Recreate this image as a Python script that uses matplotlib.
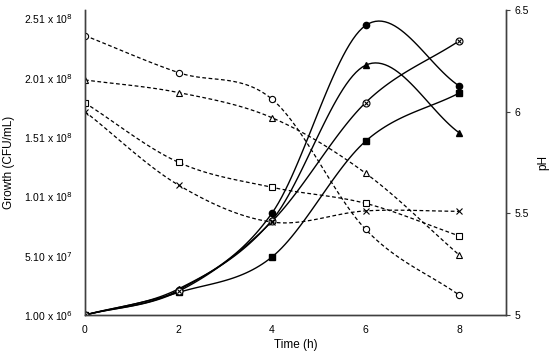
import matplotlib.pyplot as plt
import numpy as np

plt.rcParams["font.family"] = ["Liberation Sans", "DejaVu Sans"]

time_h = [0, 2, 4, 6, 8]

# growth (CFU/mL), solid lines, left axis
growth_circle = [1.0e6, 2.2e7, 8.7e7, 2.45e8, 1.94e8]
growth_triangle = [1.0e6, 2.3e7, 8.1e7, 2.115e8, 1.545e8]
growth_crossed = [1.0e6, 2.1e7, 8.0e7, 1.80e8, 2.32e8]
growth_square = [1.0e6, 2.0e7, 5.0e7, 1.475e8, 1.88e8]

# pH, dashed lines, right axis
ph_circle = [6.374, 6.192, 6.061, 5.421, 5.098]
ph_triangle = [6.156, 6.094, 5.970, 5.697, 5.295]
ph_square = [6.043, 5.751, 5.628, 5.549, 5.389]
ph_cross = [6.000, 5.639, 5.457, 5.512, 5.510]

growth_ticks = [1.0e6, 5.1e7, 1.01e8, 1.51e8, 2.01e8, 2.51e8]
growth_labels = [r"1.00 x 10$^{6}$", r"5.10 x 10$^{7}$", r"1.01 x 10$^{8}$",
                 r"1.51 x 10$^{8}$", r"2.01 x 10$^{8}$", r"2.51 x 10$^{8}$"]
ph_ticks = [5, 5.5, 6, 6.5]
ph_labels = ["5", "5.5", "6", "6.5"]


def smooth(x, y, n=30):
    # catmull-rom style smoothing, like spreadsheet "smoothed line"
    x = np.asarray(x, float)
    y = np.asarray(y, float)
    px = np.concatenate([[2 * x[0] - x[1]], x, [2 * x[-1] - x[-2]]])
    py = np.concatenate([[2 * y[0] - y[1]], y, [2 * y[-1] - y[-2]]])
    xs, ys = [], []
    t = np.linspace(0, 1, n)
    for i in range(1, len(px) - 2):
        p0, p1, p2, p3 = px[i - 1], px[i], px[i + 1], px[i + 2]
        q0, q1, q2, q3 = py[i - 1], py[i], py[i + 1], py[i + 2]
        b = [p1, p1 + (p2 - p0) / 6, p2 - (p3 - p1) / 6, p2]
        c = [q1, q1 + (q2 - q0) / 6, q2 - (q3 - q1) / 6, q2]
        w = [(1 - t) ** 3, 3 * (1 - t) ** 2 * t, 3 * (1 - t) * t ** 2, t ** 3]
        xs.extend(sum(wk * bk for wk, bk in zip(w, b)))
        ys.extend(sum(wk * ck for wk, ck in zip(w, c)))
    return np.array(xs), np.array(ys)


fig = plt.figure(figsize=(5.5, 3.53), dpi=100)
ax = fig.add_axes([0.1545, 0.1076, 0.7655, 0.8641])
ax2 = ax.twinx()

axis_col = "#404040"
ms = 4.5

# pH series (dashed, open markers)
for vals, mk in [(ph_circle, "o"), (ph_triangle, "^"), (ph_square, "s"), (ph_cross, "x")]:
    sx, sy = smooth(time_h, vals)
    ax2.plot(sx, sy, color="black", lw=0.9, ls=(0, (3, 2)))
    if mk == "x":
        ax2.plot(time_h, vals, ls="none", marker="x", ms=ms, mec="black", mew=0.8)
    else:
        ax2.plot(time_h, vals, ls="none", marker=mk, ms=ms, mfc="white", mec="black", mew=0.8)

# growth series (solid, filled markers)
for vals in [growth_circle, growth_triangle, growth_crossed, growth_square]:
    sx, sy = smooth(time_h, vals)
    ax.plot(sx, sy, color="black", lw=1.0)
for vals, mk in [(growth_circle, "o"), (growth_triangle, "^"), (growth_square, "s")]:
    ax.plot(time_h, vals, ls="none", marker=mk, ms=ms, mfc="black", mec="black", zorder=5)
ax.plot(time_h, growth_crossed, ls="none", marker="o", ms=ms + 0.5, mfc="white", mec="black", mew=0.8, zorder=5)
ax.plot(time_h, growth_crossed, ls="none", marker="x", ms=ms - 1, mec="black", mew=0.8, zorder=6)

ax.set_xlim(0, 9)
ax.set_ylim(1.0e6, 2.58e8)
ax2.set_ylim(5, 6.5)

ax.set_xticks([0, 2, 4, 6, 8])
ax.set_xticklabels(["0", "2", "4", "6", "8"], fontsize=7.5)
ax.set_yticks(growth_ticks)
ax.set_yticklabels(growth_labels, fontsize=7.5)
ax.tick_params(axis="x", length=0, pad=7)
ax.tick_params(axis="y", length=0, pad=9)
ax2.set_yticks(ph_ticks)
ax2.set_yticklabels(ph_labels, fontsize=7.5)
ax2.tick_params(axis="y", length=3, width=0.8, color=axis_col, pad=3)

ax.set_xlabel("Time (h)", fontsize=8.5, labelpad=3)
ax.set_ylabel("Growth (CFU/mL)", fontsize=8.5)
ax.yaxis.set_label_coords(-0.166, 0.5)
ax2.set_ylabel("pH", fontsize=8.5)
ax2.yaxis.set_label_coords(1.074, 0.5)

for a in (ax, ax2):
    a.spines["top"].set_visible(False)
    for s in ("left", "bottom", "right"):
        a.spines[s].set_color(axis_col)
        a.spines[s].set_linewidth(1.0)

fig.savefig("out.png", dpi=100)
